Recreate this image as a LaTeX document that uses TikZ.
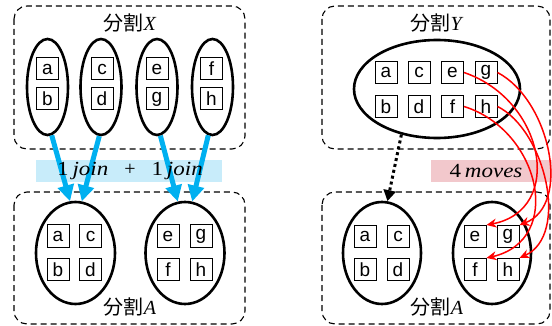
\documentclass[tikz,border=0pt]{standalone}
\usepackage{fontspec}
\setmainfont{Liberation Serif}
\setsansfont{Liberation Sans}
\newfontfamily\cjk{Noto Sans CJK JP}
\usetikzlibrary{shapes.geometric,arrows.meta}
\definecolor{joinblue}{RGB}{0,176,240}
\definecolor{bandblue}{RGB}{200,236,250}
\definecolor{bandpink}{RGB}{242,200,204}
\tikzset{
  grp/.style={draw, dashed, dash pattern=on 6pt off 4pt, line width=1.1pt, rounded corners=13pt},
  cell/.style={draw, line width=1pt, minimum width=22pt, minimum height=22pt, inner sep=0pt,
    font=\sffamily\fontsize{19}{19}\selectfont},
  ell/.style={draw, ellipse, line width=2.6pt, inner sep=0pt},
  lbl/.style={font=\fontsize{20}{20}\selectfont, inner sep=0pt},
  bandtxt/.style={font=\fontsize{20}{20}\selectfont, inner sep=0pt},
  joinarrow/.style={joinblue, line width=5pt, -{Triangle[length=16pt,width=16pt]}},
  movearrow/.style={red, line width=1.5pt, -{Stealth[length=10pt,width=9pt]}},
  dotarrow/.style={line width=3pt, dash pattern=on 3pt off 3pt, -{Triangle[length=11pt,width=12pt]}},
}
\begin{document}
\begin{tikzpicture}[x=1pt,y=-1pt]
\useasboundingbox (0,0) rectangle (552,326);
% groups
\draw[grp] (14,6) rectangle (245,149);
\draw[grp] (14,192) rectangle (245,324);
\draw[grp] (322,6) rectangle (550,149);
\draw[grp] (322,192) rectangle (550,324);
\node[lbl] (lx) at (130,23) {{\cjk 分割}\textit{X}};
\node[lbl] (la1) at (130,307) {{\cjk 分割}\textit{A}};
\node[lbl] (ly) at (437,23) {{\cjk 分割}\textit{Y}};
\node[lbl] (la2) at (437,307) {{\cjk 分割}\textit{A}};
% bands
\node[fill=bandblue, minimum width=186pt, minimum height=22pt, inner sep=0pt] (band1) at (129,171) {};
\node[fill=bandpink, minimum width=121pt, minimum height=22pt, inner sep=0pt] (band2) at (491.5,171) {};
% top-left ellipses
\node[ell, minimum width=41pt, minimum height=96pt] (x1) at (47.5,87) {};
\node[ell, minimum width=41pt, minimum height=96pt] (x2) at (101,87) {};
\node[ell, minimum width=41pt, minimum height=96pt] (x3) at (157,87) {};
\node[ell, minimum width=41pt, minimum height=96pt] (x4) at (212.5,87) {};
\node[cell] (xa) at (47.5,69) {a};
\node[cell] (xb) at (47.5,99) {b};
\node[cell] (xc) at (102,69) {c};
\node[cell] (xd) at (102,99) {d};
\node[cell] (xe) at (157,69) {e};
\node[cell] (xg) at (157,99) {g};
\node[cell] (xf) at (211.5,69) {f};
\node[cell] (xh) at (211.5,99) {h};
% bottom-left
\node[ell, minimum width=79pt, minimum height=102pt] (a1) at (75.5,253) {};
\node[ell, minimum width=79pt, minimum height=102pt] (a2) at (185,253) {};
\node[cell] (aa) at (58,236) {a};
\node[cell] (ac) at (90.5,236) {c};
\node[cell] (ab) at (58,269.5) {b};
\node[cell] (ad) at (90.5,269.5) {d};
\node[cell] (ae) at (168,236) {e};
\node[cell] (ag) at (201,236) {g};
\node[cell] (af) at (168,269.5) {f};
\node[cell] (ah) at (201,269.5) {h};
% top-right
\node[ell, minimum width=166pt, minimum height=98pt] (y1) at (437,89) {};
\node[cell] (ya) at (386,72.5) {a};
\node[cell] (yc) at (419,72.5) {c};
\node[cell] (ye) at (452.5,72.5) {e};
\node[cell] (yg) at (486,72.5) {g};
\node[cell] (yb) at (386,106.5) {b};
\node[cell] (yd) at (419,106.5) {d};
\node[cell] (yf) at (452.5,106.5) {f};
\node[cell] (yh) at (486,106.5) {h};
% bottom-right
\node[ell, minimum width=78pt, minimum height=102pt] (b1) at (382,253) {};
\node[ell, minimum width=78pt, minimum height=102pt] (b2) at (492,253) {};
\node[cell] (ba) at (365,236.5) {a};
\node[cell] (bc) at (398,236.5) {c};
\node[cell] (bb) at (365,269.5) {b};
\node[cell] (bd) at (398,269.5) {d};
\node[cell] (be) at (475,236.5) {e};
\node[cell] (bg) at (508,236.5) {g};
\node[cell] (bf) at (475,269.5) {f};
\node[cell] (bh) at (508,269.5) {h};
% join arrows
\draw[joinarrow] (x1.-85) -- (a1.96);
\draw[joinarrow] (x2.-92) -- (a1.83);
\draw[joinarrow] (x3.-86) -- (a2.98);
\draw[joinarrow] (x4.-95) -- (a2.82);
% dotted arrow
\draw[dotarrow] (y1.-128) -- (b1.84);
% move arrows
\draw[movearrow] (ye.east) .. controls (545,100) and (565,210) .. (be.north east);
\draw[movearrow] (yg.east) .. controls (550,100) and (572,205) .. (bg.north east);
\draw[movearrow] (yf.east) .. controls (540,130) and (565,240) .. (bf.north east);
\draw[movearrow] (yh.east) .. controls (545,130) and (570,235) .. (bh.north east);
% band texts
\node[bandtxt] (t1) at (130,171) {\scalebox{1.15}[1]{1\,\textit{join}}\hspace{16pt}+\hspace{16pt}\scalebox{1.15}[1]{1\,\textit{join}}};
\node[bandtxt] (t2) at (486,171) {\scalebox{1.15}[1]{4\,\textit{moves}}};
\end{tikzpicture}
\end{document}
